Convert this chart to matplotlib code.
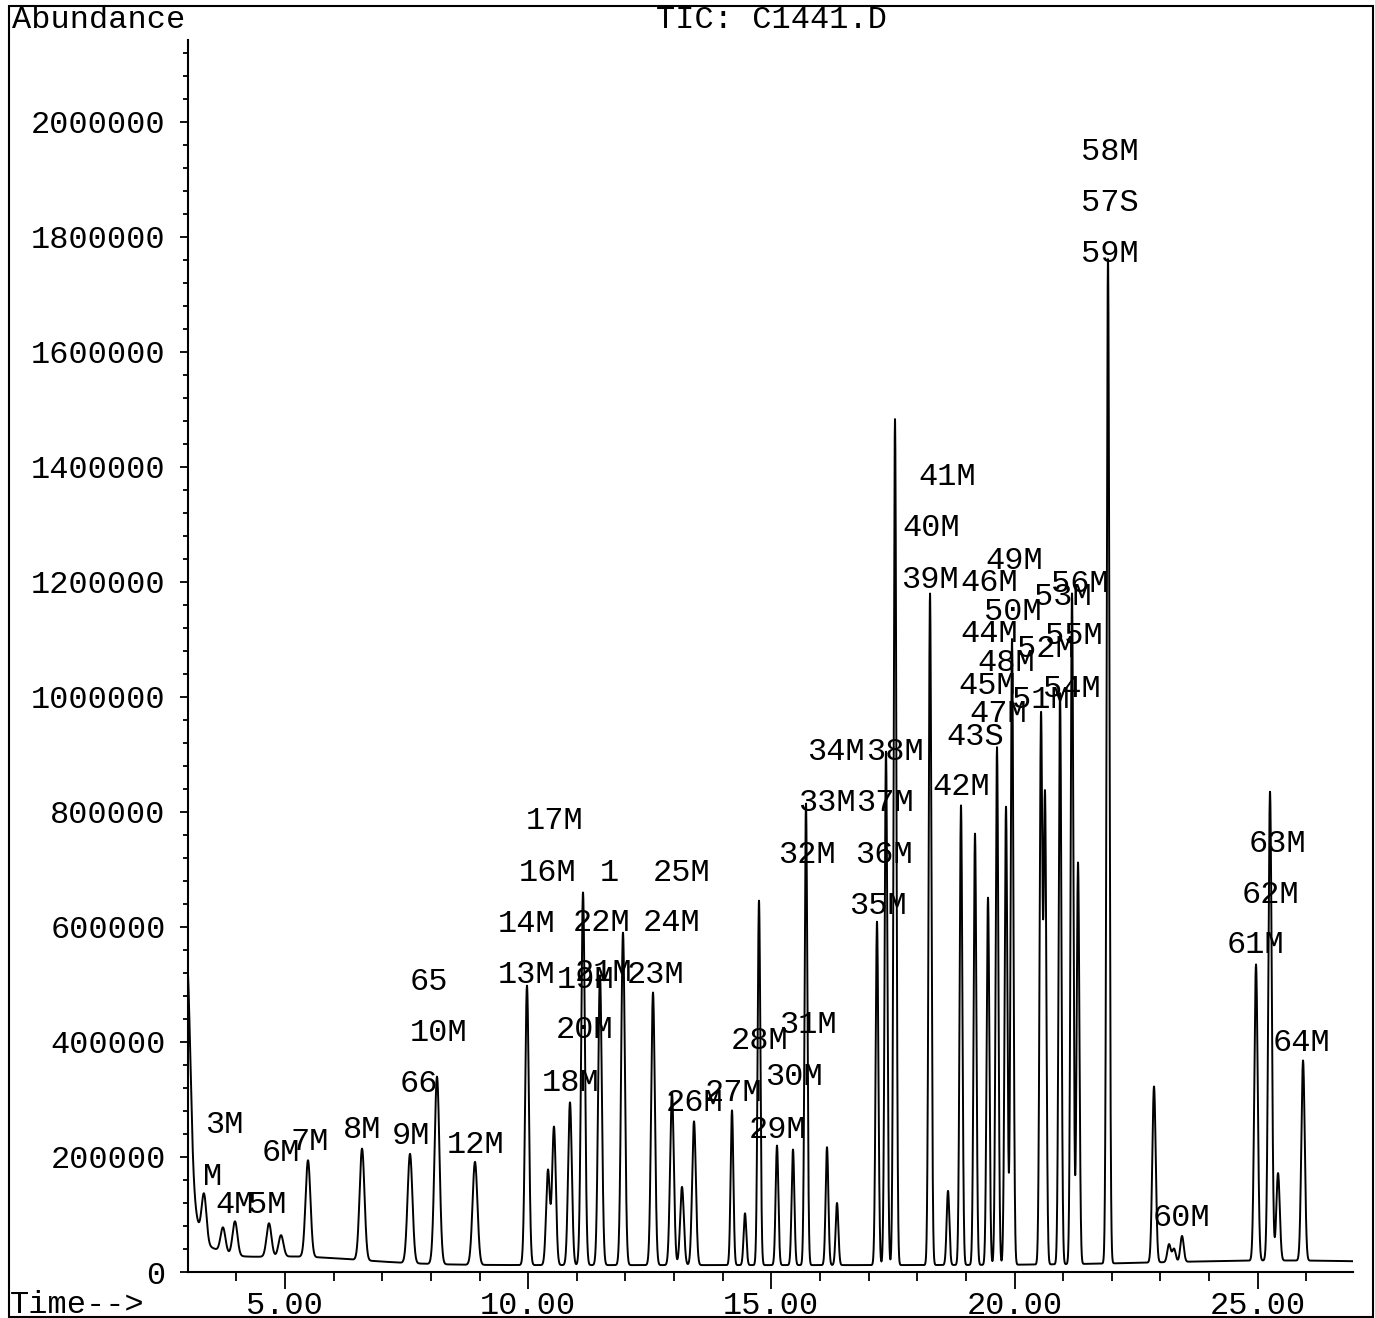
import numpy as np
import matplotlib
matplotlib.use("Agg")
import matplotlib.pyplot as plt
from matplotlib.ticker import MultipleLocator, FormatStrFormatter
from matplotlib.patches import Rectangle

plt.rcParams['font.family'] = ['Liberation Mono', 'DejaVu Sans Mono']

# retention time (min) and peak height above baseline (abundance)
peak_time = [3.336, 3.726, 3.973, 4.672, 4.919, 5.474, 6.585, 7.571, 8.126, 8.907,
             9.976, 10.408, 10.531, 10.860, 11.128, 11.477, 11.950, 12.567, 12.957, 13.163,
             13.410, 14.191, 14.458, 14.746, 15.116, 15.445, 15.712, 16.144, 16.350, 17.172,
             17.357, 17.542, 18.262, 18.632, 18.899, 19.187, 19.454, 19.639, 19.824, 19.948,
             20.544, 20.626, 20.935, 21.181, 21.305, 21.921, 22.867, 23.176, 23.278, 23.443,
             24.964, 25.252, 25.417, 25.931]
peak_height = [84000, 43000, 59000, 58000, 37000, 168000, 194000, 190000, 326000, 179000,
               486000, 165000, 240000, 283000, 648000, 504000, 578000, 474000, 300000, 136000,
               250000, 269000, 90000, 634000, 208000, 201000, 803000, 205000, 108000, 597000,
               893000, 1471000, 1168000, 129000, 799000, 750000, 639000, 900000, 797000, 1088000,
               950000, 811000, 993000, 1167000, 698000, 1748000, 306000, 31000, 23000, 45000,
               515000, 815000, 152000, 348000]

# solvent front and baseline drift
drift_time = [2.98, 3.05, 3.0, 5.0, 25.5]
drift_height = [420000, 80000, 35000, 15000, 8000]
drift_width = [0.07, 0.12, 0.5, 1.5, 2.5]
base_level = 12000

# peak annotations
label_text = ['3M', 'M', '4M', '5M', '6M', '7M', '8M', '9M', '12M', '65', '10M', '66',
              '13M', '14M', '16M', '17M', '19M', '21M', '20M', '18M', '1', '22M', '25M',
              '24M', '23M', '26M', '27M', '28M', '29M', '30M', '31M', '32M', '33M', '34M',
              '35M', '36M', '37M', '38M', '39M', '40M', '41M', '42M', '43S', '44M', '45M',
              '46M', '47M', '48M', '49M', '50M', '51M', '52M', '53M', '54M', '55M', '56M',
              '57S', '58M', '59M', '60M', '61M', '62M', '63M', '64M']
label_time = [3.356, 3.315, 3.562, 4.240, 4.528, 5.104, 6.193, 7.201, 8.332, 7.571, 7.571, 7.365,
              9.380, 9.380, 9.812, 9.956, 10.593, 10.963, 10.572, 10.284, 11.480, 10.922, 12.567,
              12.361, 12.032, 12.834, 13.636, 14.171, 14.541, 14.870, 15.158, 15.137, 15.548, 15.733,
              16.597, 16.720, 16.741, 16.947, 17.666, 17.686, 18.015, 18.303, 18.591, 18.879, 18.838,
              18.879, 19.064, 19.228, 19.393, 19.372, 19.948, 20.051, 20.401, 20.586, 20.626, 20.749,
              21.366, 21.366, 21.366, 22.846, 24.367, 24.676, 24.820, 25.313]
label_abund = [255600, 165200, 116500, 116500, 206900, 226000, 246900, 236500, 220800, 504200, 415500, 326900,
               516400, 605100, 693700, 784100, 507700, 519900, 420800, 328600, 693700, 606800, 693700,
               606800, 516400, 293800, 311200, 401600, 246900, 339000, 429500, 725000, 815400, 904100,
               636400, 725000, 815400, 904100, 1203200, 1293600, 1382300, 843300, 930200, 1109300, 1018900,
               1198000, 970200, 1058900, 1236200, 1147500, 994500, 1083200, 1173600, 1013600, 1105800, 1196200,
               1858700, 1947300, 1770000, 93900, 568500, 655500, 744200, 398200]

x_ticks = [5, 10, 15, 20, 25]
y_ticks = list(range(0, 2000001, 200000))

# build the trace
t = np.linspace(3.007, 26.958, 9000)
pt = np.array(peak_time)
ph = np.array(peak_height)
sig = np.where(pt < 9.5, 0.05, np.where(pt < 14, 0.038, np.where(pt < 22.5, 0.028, 0.035)))
tic = np.full_like(t, base_level, dtype=float)
for c, h, s in zip(drift_time, drift_height, drift_width):
    tic += h * np.exp(-0.5 * ((t - c) / s) ** 2)
for c, h, s in zip(pt, ph, sig):
    tic += h * np.exp(-0.5 * ((t - c) / s) ** 2)

fig = plt.figure(figsize=(13.75, 13.18), dpi=100)
ax = fig.add_axes([188 / 1375, 46 / 1318, 1165 / 1375, 1232 / 1318])
ax.plot(t, tic, color='black', lw=1.4)

ax.set_xlim(3.007, 26.958)
ax.set_ylim(0, 2142000)
for side in ['top', 'right']:
    ax.spines[side].set_visible(False)
for side in ['left', 'bottom']:
    ax.spines[side].set_linewidth(1.5)

ax.set_xticks(x_ticks)
ax.xaxis.set_major_formatter(FormatStrFormatter('%.2f'))
ax.xaxis.set_minor_locator(MultipleLocator(1))
ax.set_yticks(y_ticks)
ax.yaxis.set_major_formatter(FormatStrFormatter('%d'))
ax.yaxis.set_minor_locator(MultipleLocator(40000))
ax.tick_params(axis='x', which='major', length=12, width=1.3, pad=1.5, labelsize=23)
ax.tick_params(axis='x', which='minor', length=6.5, width=1.3)
ax.tick_params(axis='y', which='major', length=6, width=1.3, pad=10, labelsize=23)
ax.tick_params(axis='y', which='minor', length=3.5, width=1.3)

for txt, lt, la in zip(label_text, label_time, label_abund):
    ax.text(lt, la, txt, ha='left', va='center', fontsize=23)

fig.text(12 / 1375, 1 - 20 / 1318, 'Abundance', ha='left', va='center', fontsize=23)
fig.text(771 / 1375, 1 - 20 / 1318, 'TIC: C1441.D', ha='center', va='center', fontsize=23)
fig.text(10 / 1375, 1 - 1305 / 1318, 'Time-->', ha='left', va='center', fontsize=23)
fig.add_artist(Rectangle((9 / 1375, 1.5 / 1318), 1364 / 1375, 1311 / 1318,
                         transform=fig.transFigure, fill=False, lw=1.5, color='black'))

fig.savefig('out.png', dpi=100)
